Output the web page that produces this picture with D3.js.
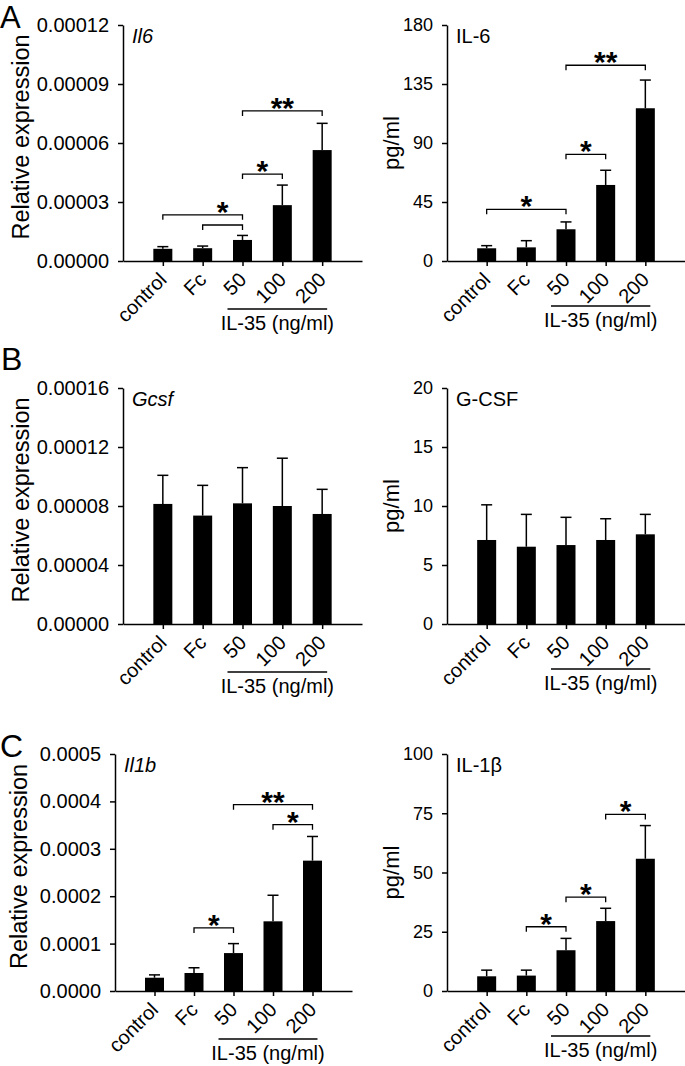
<!DOCTYPE html>
<html>
<head>
<meta charset="utf-8">
<script src="https://cdn.jsdelivr.net/npm/d3@7"></script>
<style>
  body { margin: 0; background: #fff; }
  text { font-family: "Liberation Sans", Arial, sans-serif; fill: #000; }
</style>
</head>
<body>
<div id="fig"></div>
<script>
// groups on the x axis
var categories = ["control", "Fc", "50", "100", "200"];

// A - Il6 mRNA (relative expression)
var il6Expr = [0.0000062, 0.0000065, 0.0000107, 0.0000284, 0.0000564];
var il6ExprErr = [0.0000011, 0.0000011, 0.0000023, 0.0000102, 0.0000136];
var il6ExprTicks = [0, 0.00003, 0.00006, 0.00009, 0.00012];
var il6ExprSig = [
  {a: "control", b: "50", y: 0.0000235, stars: "*", sa: "Fc"},
  {a: "Fc", b: "50", y: 0.0000183, stars: ""},
  {a: "50", b: "100", y: 0.0000442, stars: "*"},
  {a: "50", b: "200", y: 0.0000763, stars: "**"}
];

// A - IL-6 protein (pg/ml)
var il6Prot = [9.7, 10.4, 24.2, 58, 116.5];
var il6ProtErr = [2.0, 5.1, 5.6, 11.2, 21.5];
var il6ProtTicks = [0, 45, 90, 135, 180];
var il6ProtSig = [
  {a: "control", b: "50", y: 39.4, stars: "*"},
  {a: "50", b: "100", y: 81.4, stars: "*"},
  {a: "50", b: "200", y: 149.3, stars: "**"}
];

// B - Gcsf mRNA
var gcsfExpr = [0.0000814, 0.0000735, 0.0000818, 0.0000800, 0.0000746];
var gcsfExprErr = [0.0000194, 0.0000205, 0.0000242, 0.0000324, 0.0000167];
var gcsfExprTicks = [0, 0.00004, 0.00008, 0.00012, 0.00016];

// B - G-CSF protein
var gcsfProt = [7.12, 6.55, 6.69, 7.12, 7.6];
var gcsfProtErr = [2.98, 2.74, 2.35, 1.8, 1.69];
var gcsfProtTicks = [0, 5, 10, 15, 20];

// C - Il1b mRNA
var il1bExpr = [0.000028, 0.000038, 0.000080, 0.000147, 0.000275];
var il1bExprErr = [0.000006, 0.000011, 0.000020, 0.000055, 0.000051];
var il1bExprTicks = [0, 0.0001, 0.0002, 0.0003, 0.0004, 0.0005];
var il1bExprSig = [
  {a: "Fc", b: "50", y: 0.000133, stars: "*"},
  {a: "100", b: "200", y: 0.000351, stars: "*"},
  {a: "50", b: "200", y: 0.000393, stars: "**"}
];

// C - IL-1β protein
var il1bProt = [6.2, 6.5, 17.2, 29.5, 55.8];
var il1bProtErr = [2.6, 2.3, 5.0, 5.4, 14.0];
var il1bProtTicks = [0, 25, 50, 75, 100];
var il1bProtSig = [
  {a: "Fc", b: "50", y: 27.1, stars: "*"},
  {a: "50", b: "100", y: 39.6, stars: "*"},
  {a: "100", b: "200", y: 74.5, stars: "*"}
];

var W = 685, H = 1066;
var barW = 19, capW = 11;

var svg = d3.select("#fig").append("svg")
  .attr("width", W)
  .attr("height", H);

var panels = [
  {axisX: 123, end: 362, top: 25, zero: 261, vals: il6Expr, errs: il6ExprErr, ticks: il6ExprTicks,
   fmt: d3.format(".5f"), title: "Il6", italic: true, ylab: "Relative expression", side: "left", sig: il6ExprSig},
  {axisX: 447, end: 685, top: 25, zero: 261, vals: il6Prot, errs: il6ProtErr, ticks: il6ProtTicks,
   fmt: d3.format("d"), title: "IL-6", italic: false, ylab: "pg/ml", side: "right", sig: il6ProtSig},
  {axisX: 123, end: 362, top: 388, zero: 624, vals: gcsfExpr, errs: gcsfExprErr, ticks: gcsfExprTicks,
   fmt: d3.format(".5f"), title: "Gcsf", italic: true, ylab: "Relative expression", side: "left", sig: []},
  {axisX: 447, end: 685, top: 388, zero: 624, vals: gcsfProt, errs: gcsfProtErr, ticks: gcsfProtTicks,
   fmt: d3.format("d"), title: "G-CSF", italic: false, ylab: "pg/ml", side: "right", sig: []},
  {axisX: 115, end: 352, top: 754, zero: 991, vals: il1bExpr, errs: il1bExprErr, ticks: il1bExprTicks,
   fmt: d3.format(".4f"), title: "Il1b", italic: true, ylab: "Relative expression", side: "left", sig: il1bExprSig},
  {axisX: 447, end: 685, top: 754, zero: 991, vals: il1bProt, errs: il1bProtErr, ticks: il1bProtTicks,
   fmt: d3.format("d"), title: "IL-1\u03b2", italic: false, ylab: "pg/ml", side: "right", sig: il1bProtSig}
];

panels.forEach(drawPanel);

// panel letters
svg.append("text").attr("x", 0).attr("y", 28).attr("font-size", 31).text("A");
svg.append("text").attr("x", 1).attr("y", 370).attr("font-size", 32).text("B");
svg.append("text").attr("x", 0).attr("y", 757).attr("font-size", 32).text("C");

function drawPanel(p) {
  var g = svg.append("g");

  var x = d3.scalePoint()
    .domain(categories)
    .range([p.axisX, p.end])
    .padding(1);

  var y = d3.scaleLinear()
    .domain([0, p.ticks[p.ticks.length - 1]])
    .range([p.zero, p.top]);

  // error bars (upper half only)
  g.selectAll(".err").data(p.vals).join("line")
    .attr("x1", (d, i) => x(categories[i]))
    .attr("x2", (d, i) => x(categories[i]))
    .attr("y1", d => y(d))
    .attr("y2", (d, i) => y(d + p.errs[i]))
    .attr("stroke", "#000").attr("stroke-width", 1.5);

  g.selectAll(".cap").data(p.vals).join("line")
    .attr("x1", (d, i) => x(categories[i]) - capW / 2)
    .attr("x2", (d, i) => x(categories[i]) + capW / 2)
    .attr("y1", (d, i) => y(d + p.errs[i]))
    .attr("y2", (d, i) => y(d + p.errs[i]))
    .attr("stroke", "#000").attr("stroke-width", 1.5);

  // bars
  g.selectAll(".bar").data(p.vals).join("rect")
    .attr("x", (d, i) => x(categories[i]) - barW / 2)
    .attr("y", d => y(d))
    .attr("width", barW)
    .attr("height", d => y(0) - y(d))
    .attr("fill", "#000");

  // y axis
  var ya = g.append("g")
    .attr("transform", `translate(${p.axisX},0)`)
    .call(d3.axisLeft(y).tickValues(p.ticks).tickFormat(p.fmt).tickSize(5).tickSizeOuter(0).tickPadding(9))
    .attr("font-family", null)
    .attr("font-size", p.side == "left" ? 20 : 18);
  ya.selectAll("path, line").attr("stroke-width", 1.5);

  // x axis
  var xa = g.append("g")
    .attr("transform", `translate(0,${p.zero})`)
    .call(d3.axisBottom(x).tickSize(5).tickSizeOuter(0).tickFormat(""));
  xa.selectAll("path, line").attr("stroke-width", 1.5);

  // rotated category labels
  g.selectAll(".xlab").data(categories).join("text")
    .attr("text-anchor", "end")
    .attr("font-size", 20)
    .attr("transform", d => `translate(${x(d) + 5},${p.zero + 20}) rotate(-45)`)
    .text(d => d);

  // IL-35 group line + label
  var lineOff = p.side == "left" ? 48 : 45;
  g.append("line")
    .attr("x1", x("50") - 15).attr("x2", x("200") + 5)
    .attr("y1", p.zero + lineOff).attr("y2", p.zero + lineOff)
    .attr("stroke", "#000").attr("stroke-width", 1.3);
  g.append("text")
    .attr("x", x("100") - 5)
    .attr("y", p.zero + lineOff + 21)
    .attr("text-anchor", "middle")
    .attr("font-size", 20)
    .text("IL-35 (ng/ml)");

  // gene / protein label
  g.append("text")
    .attr("x", p.axisX + 9)
    .attr("y", p.top + 18)
    .attr("font-size", 20)
    .attr("font-style", p.italic ? "italic" : "normal")
    .text(p.title);

  // y axis title
  var tx = p.side == "left" ? (p.axisX == 115 ? 27 : 29) : 399;
  var ty = p.side == "left" ? (p.top + p.zero) / 2 - 6 : (p.top + p.zero) / 2;
  g.append("text")
    .attr("transform", `translate(${tx},${ty}) rotate(-90)`)
    .attr("text-anchor", "middle")
    .attr("font-size", p.side == "left" ? 23.5 : 22)
    .text(p.ylab);

  // significance brackets
  p.sig.forEach(function(s) {
    var yy = y(s.y);
    g.append("path")
      .attr("d", `M${x(s.a)},${yy + 5}V${yy}H${x(s.b)}V${yy + 5}`)
      .attr("fill", "none")
      .attr("stroke", "#000")
      .attr("stroke-width", 1.3);
    if (s.stars) {
      var sx = (x(s.sa || s.a) + x(s.sb || s.b)) / 2;
      g.append("text")
        .attr("x", sx)
        .attr("y", yy + 7)
        .attr("text-anchor", "middle")
        .attr("font-size", 30)
        .attr("font-weight", "bold")
        .text(s.stars);
    }
  });
}
</script>
</body>
</html>
